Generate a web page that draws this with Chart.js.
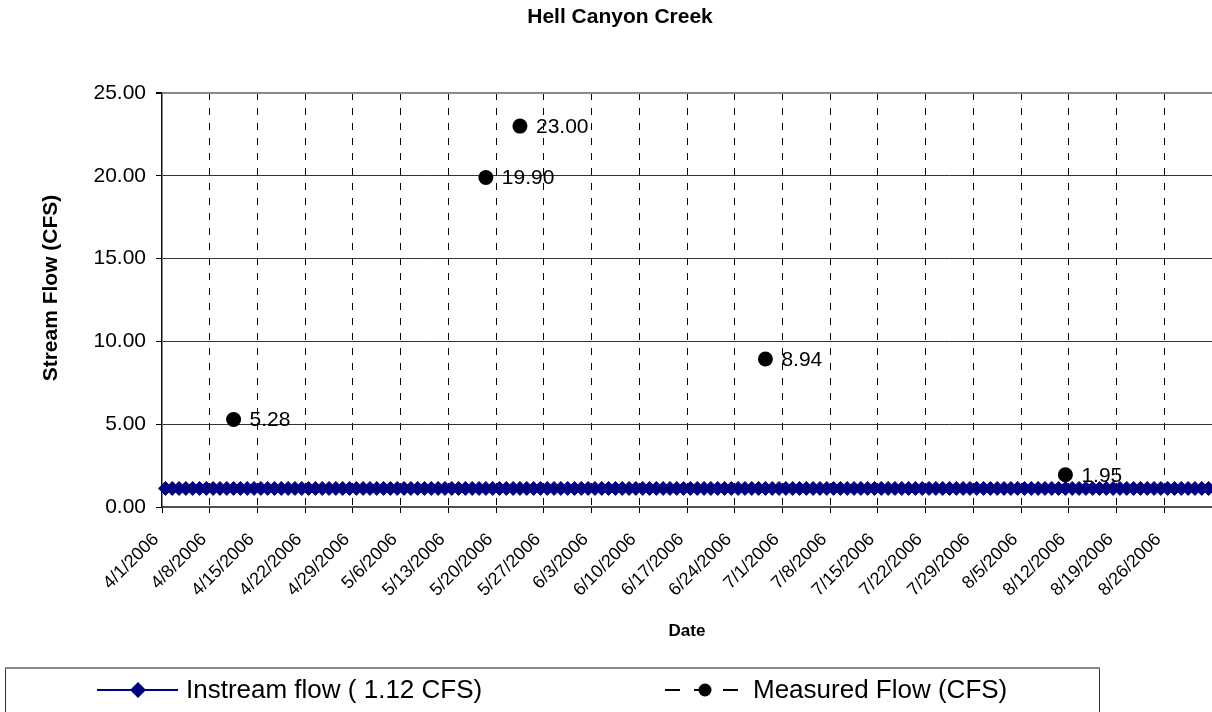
<!DOCTYPE html>
<html><head><meta charset="utf-8">
<script src="https://cdn.jsdelivr.net/npm/chart.js@4.4.1/dist/chart.umd.min.js"></script>
<style>html,body{margin:0;padding:0;background:#fff;overflow:hidden;} #wrap{width:1212px;height:712px;position:relative;}</style>
</head><body><div id="wrap"><canvas id="c" width="1212" height="712"></canvas></div>
<script>
const chartTitle = 'Hell Canyon Creek';
const yTitle = 'Stream Flow (CFS)';
const xTitle = 'Date';
const startDate = '4/1/2006';
const tickLabels = ['4/1/2006','4/8/2006','4/15/2006','4/22/2006','4/29/2006','5/6/2006','5/13/2006','5/20/2006','5/27/2006','6/3/2006','6/10/2006','6/17/2006','6/24/2006','7/1/2006','7/8/2006','7/15/2006','7/22/2006','7/29/2006','8/5/2006','8/12/2006','8/19/2006','8/26/2006'];
const yTicks = [0, 5, 10, 15, 20, 25];
const instreamLabel = 'Instream flow ( 1.12 CFS)';
// daily values, 4/1/2006 .. 9/1/2006
const instreamFlow = [
1.12,1.12,1.12,1.12,1.12,1.12,1.12,1.12,1.12,1.12,1.12,
1.12,1.12,1.12,1.12,1.12,1.12,1.12,1.12,1.12,1.12,1.12,
1.12,1.12,1.12,1.12,1.12,1.12,1.12,1.12,1.12,1.12,1.12,
1.12,1.12,1.12,1.12,1.12,1.12,1.12,1.12,1.12,1.12,1.12,
1.12,1.12,1.12,1.12,1.12,1.12,1.12,1.12,1.12,1.12,1.12,
1.12,1.12,1.12,1.12,1.12,1.12,1.12,1.12,1.12,1.12,1.12,
1.12,1.12,1.12,1.12,1.12,1.12,1.12,1.12,1.12,1.12,1.12,
1.12,1.12,1.12,1.12,1.12,1.12,1.12,1.12,1.12,1.12,1.12,
1.12,1.12,1.12,1.12,1.12,1.12,1.12,1.12,1.12,1.12,1.12,
1.12,1.12,1.12,1.12,1.12,1.12,1.12,1.12,1.12,1.12,1.12,
1.12,1.12,1.12,1.12,1.12,1.12,1.12,1.12,1.12,1.12,1.12,
1.12,1.12,1.12,1.12,1.12,1.12,1.12,1.12,1.12,1.12,1.12,
1.12,1.12,1.12,1.12,1.12,1.12,1.12,1.12,1.12,1.12,1.12,
1.12,1.12,1.12,1.12,1.12,1.12,1.12,1.12,1.12,1.12,1.12
];
const measuredLabel = 'Measured Flow (CFS)';
const measuredDates = ['4/11/2006','5/18/2006','5/23/2006','6/28/2006','8/11/2006'];
const measuredFlow = [5.28, 19.90, 23.00, 8.94, 1.95];

function dayIndex(s) {
  const [m, d, y] = s.split('/').map(Number);
  const [m0, d0, y0] = startDate.split('/').map(Number);
  return Math.round((Date.UTC(y, m - 1, d) - Date.UTC(y0, m0 - 1, d0)) / 864e5);
}
const axisDays = tickLabels.length * 7; // weeks shown on the axis

const FONT = '"Liberation Sans", Arial, Helvetica, sans-serif';
Chart.defaults.font.family = FONT;
Chart.defaults.color = '#000';

const decor = {
  id: 'decor',
  afterDatasetsDraw(chart) {
    const ctx = chart.ctx;
    const meta = chart.getDatasetMeta(0);
    ctx.save();
    ctx.font = '21px ' + FONT;
    ctx.fillStyle = '#000';
    ctx.textAlign = 'left';
    ctx.textBaseline = 'middle';
    meta.data.forEach((el, i) => {
      const v = chart.data.datasets[0].data[i].y;
      ctx.fillText(v.toFixed(2), el.x + 16, el.y + 1);
    });
    ctx.restore();
  },
  afterDraw(chart) {
    const ctx = chart.ctx;
    ctx.save();
    ctx.fillStyle = '#000';
    // main title
    ctx.font = 'bold 21px ' + FONT;
    ctx.textAlign = 'center';
    ctx.textBaseline = 'middle';
    ctx.fillText(chartTitle, 620, 17);
    // y title
    ctx.save();
    ctx.translate(51, 288);
    ctx.rotate(-Math.PI / 2);
    ctx.font = 'bold 21px ' + FONT;
    ctx.fillText(yTitle, 0, 0);
    ctx.restore();
    // legend box
    ctx.strokeStyle = '#333';
    ctx.lineWidth = 1;
    ctx.strokeRect(5.5, 668.5, 1094, 60);
    ctx.strokeStyle = '#888';
    ctx.lineWidth = 2;
    ctx.beginPath(); ctx.moveTo(5, 668); ctx.lineTo(1100, 668); ctx.stroke();
    const dsIn = chart.data.datasets[1];
    const dsMe = chart.data.datasets[0];
    const ly = 690;
    // instream sample
    ctx.strokeStyle = dsIn.borderColor; ctx.lineWidth = 2;
    ctx.beginPath(); ctx.moveTo(97, ly); ctx.lineTo(178, ly); ctx.stroke();
    ctx.fillStyle = dsIn.pointBackgroundColor;
    ctx.beginPath();
    ctx.moveTo(130, ly); ctx.lineTo(138, ly - 8); ctx.lineTo(146, ly); ctx.lineTo(138, ly + 8); ctx.closePath();
    ctx.fill();
    // measured sample
    ctx.strokeStyle = '#000'; ctx.lineWidth = 2;
    ctx.setLineDash(dsMe.borderDash);
    ctx.beginPath(); ctx.moveTo(665, ly); ctx.lineTo(740, ly); ctx.stroke();
    ctx.setLineDash([]);
    ctx.fillStyle = '#000';
    ctx.beginPath(); ctx.arc(705, ly, 6.5, 0, Math.PI * 2); ctx.fill();
    // legend texts
    ctx.font = '26px ' + FONT;
    ctx.textAlign = 'left';
    ctx.textBaseline = 'middle';
    ctx.fillText(dsIn.label, 186, ly + 1);
    ctx.fillText(dsMe.label, 753, ly + 1);
    ctx.restore();
  }
};

new Chart(document.getElementById('c'), {
  type: 'line',
  data: {
    datasets: [
      {
        label: measuredLabel,
        data: measuredDates.map((d, i) => ({x: dayIndex(d) + 0.5, y: measuredFlow[i]})),
        showLine: false,
        pointStyle: 'circle',
        pointRadius: 7.5,
        pointBackgroundColor: '#000',
        pointBorderColor: '#000',
        pointBorderWidth: 0,
        borderColor: '#000',
        borderDash: [15, 14],
        order: 0,
        clip: false
      },
      {
        label: instreamLabel,
        data: instreamFlow.map((v, i) => ({x: i + 0.5, y: v})),
        borderColor: '#000080',
        borderWidth: 2,
        pointStyle: 'rectRot',
        pointRadius: 7,
        pointBackgroundColor: '#000080',
        pointBorderColor: '#000080',
        pointBorderWidth: 1,
        tension: 0,
        order: 1,
        clip: false
      }
    ]
  },
  options: {
    responsive: false,
    animation: false,
    devicePixelRatio: 1,
    layout: {autoPadding: false, padding: {top: 93, left: 0, right: 0, bottom: 0}},
    plugins: {legend: {display: false}, tooltip: {enabled: false}, title: {display: false}},
    scales: {
      x: {
        type: 'linear',
        min: 0,
        max: axisDays,
        afterFit: s => { s.height = 205; s.paddingLeft = 0; s.paddingRight = 0; },
        ticks: {
          stepSize: 7,
          autoSkip: false,
          maxRotation: 45,
          minRotation: 45,
          padding: 16,
          labelOffset: -6,
          font: {size: 18},
          color: '#000',
          callback: v => tickLabels[v / 7] ?? ''
        },
        grid: {
          color: c => (c.tick && c.tick.value === 0) ? 'rgba(0,0,0,0)' : '#000',
          lineWidth: 1, tickLength: 6, tickColor: '#000', tickBorderDash: [], drawTicks: true
        },
        border: {display: true, color: '#505050', width: 2, dash: [7, 8]},
        title: {display: true, text: xTitle, font: {size: 17, weight: 'bold'}, color: '#000', padding: {top: 0, bottom: 70}}
      },
      y: {
        min: 0,
        max: 25,
        afterFit: s => { s.width = 162; s.paddingTop = 0; s.paddingBottom = 0; },
        afterBuildTicks: s => { s.ticks = yTicks.map(v => ({value: v})); },
        ticks: {
          padding: 10,
          font: {size: 21},
          color: '#000',
          callback: v => Number(v).toFixed(2)
        },
        grid: {
          color: c => (c.tick && c.tick.value === 25) ? '#888' : '#333',
          lineWidth: c => (c.tick && c.tick.value === 25) ? 2 : 1,
          tickLength: 6,
          tickColor: '#000'
        },
        border: {display: true, color: '#111', width: 1.5}
      }
    }
  },
  plugins: [decor]
});
</script>
</body></html>
